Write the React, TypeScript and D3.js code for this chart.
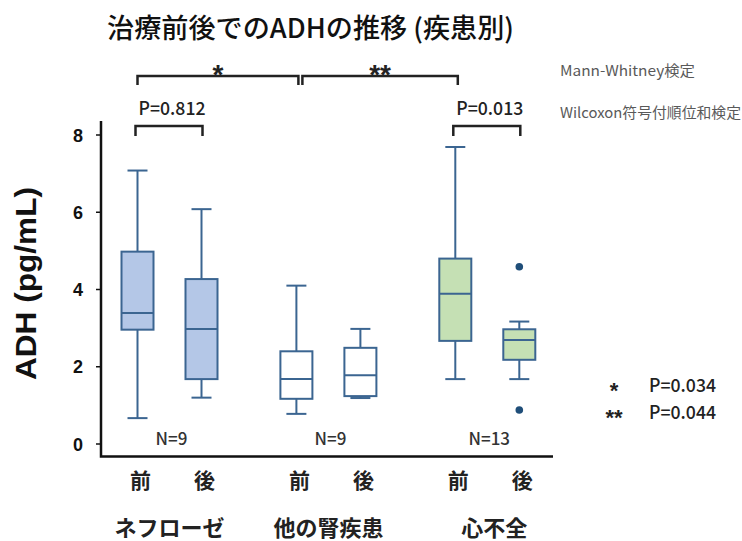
import React from "react";
import * as d3 from "d3";

// Disease groups and treatment phases
const groups = ["ネフローゼ", "他の腎疾患", "心不全"];
const phases = ["前", "後"];
const groupN = ["N=9", "N=9", "N=13"];

// Box statistics, one entry per box (group × phase, in order)
const boxLow = [0.67, 1.2, 0.78, 1.19, 1.68, 1.68];
const boxQ1 = [2.96, 1.68, 1.17, 1.24, 2.67, 2.18];
const boxMedian = [3.39, 2.98, 1.68, 1.78, 3.89, 2.69];
const boxQ3 = [4.98, 4.27, 2.4, 2.49, 4.8, 2.97];
const boxHigh = [7.08, 6.08, 4.1, 2.98, 7.69, 3.17];

// Outliers: box index and value
const outlierBox = [5, 5];
const outlierValue = [4.59, 0.88];

const yTicks = [0, 2, 4, 6, 8];

// Wilcoxon (pre vs post within group)
const wilcoxonGroups = [0, 2];
const wilcoxonLabels = ["P=0.812", "P=0.013"];

// Mann-Whitney (between groups, pre-treatment)
const mwPairs: [number, number][] = [
  [0, 1],
  [1, 2],
];
const mwMarks = ["*", "**"];
const mwLegendMarks = ["*", "**"];
const mwLegendP = ["P=0.034", "P=0.044"];

const groupFill = ["#b4c7e7", "#ffffff", "#c5e0b4"];
const stroke = "#3b6591";
const jpFont = "'Noto Sans CJK JP', 'Noto Sans', sans-serif";
const latinFont = "'Liberation Sans', Arial, sans-serif";

export default function App() {
  const W = 742;
  const H = 541;

  const y = d3.scaleLinear().domain([0, 8]).range([444, 135]);
  const xGroup = d3.scalePoint<string>().domain(groups).range([169.5, 487.3]);
  const xPhase = d3.scalePoint<string>().domain(phases).range([-32, 32]);
  const boxX = (i: number) =>
    (xGroup(groups[Math.floor(i / 2)]) as number) + (xPhase(phases[i % 2]) as number);

  const boxW = 32;
  const capW = 20;

  const axisLeft = 101;
  const axisBottom = 456.5;
  const axisRight = 553;
  const axisTop = 121;

  return (
    <svg
      width={W}
      height={H}
      style={{ position: "absolute", left: 0, top: 0, background: "#fff" }}
    >
      <rect x={0} y={0} width={W} height={H} fill="#fff" />

      {/* Title */}
      <text
        x={107}
        y={38}
        fontFamily={jpFont}
        fontWeight={500}
        fontSize={27}
        fill="#111"
        textLength={407}
        lengthAdjust="spacingAndGlyphs"
      >
        治療前後でのADHの推移 (疾患別)
      </text>

      {/* Test legend */}
      <text
        x={560}
        y={76}
        fontFamily={jpFont}
        fontSize={14.5}
        fill="#595959"
        textLength={135}
        lengthAdjust="spacingAndGlyphs"
      >
        Mann-Whitney検定
      </text>
      <text
        x={560}
        y={117.5}
        fontFamily={jpFont}
        fontSize={14.5}
        fill="#595959"
        textLength={181}
        lengthAdjust="spacingAndGlyphs"
      >
        Wilcoxon符号付順位和検定
      </text>

      {/* Mann-Whitney brackets */}
      {mwPairs.map(([a, b], k) => {
        const x0 = boxX(a * 2) + (k === 0 ? 0 : 6);
        const x1 = boxX(b * 2) + (k === 0 ? 2 : 2.5);
        const yb = 76;
        return (
          <g key={"mw" + k}>
            <path
              d={`M${x0},85 V${yb} H${x1} V85`}
              fill="none"
              stroke="#222"
              strokeWidth={2.5}
            />
            <text
              x={(x0 + x1) / 2}
              y={84}
              textAnchor="middle"
              fontFamily={latinFont}
              fontWeight="bold"
              fontSize={28}
              fill="#222"
            >
              {mwMarks[k]}
            </text>
          </g>
        );
      })}

      {/* Wilcoxon brackets */}
      {wilcoxonGroups.map((g, k) => {
        const x0 = boxX(g * 2) - 2;
        const x1 = boxX(g * 2 + 1) + 1;
        return (
          <g key={"wx" + k}>
            <path
              d={`M${x0},136 V126 H${x1} V136`}
              fill="none"
              stroke="#222"
              strokeWidth={2.5}
            />
            <text
              x={x0 + 3}
              y={115}
              fontFamily={jpFont}
              fontWeight={500}
              fontSize={18}
              fill="#222"
              textLength={67}
              lengthAdjust="spacingAndGlyphs"
            >
              {wilcoxonLabels[k]}
            </text>
          </g>
        );
      })}

      {/* Axes */}
      <path
        d={`M${axisLeft},${axisTop} V${axisBottom} H${axisRight}`}
        fill="none"
        stroke="#111"
        strokeWidth={2.5}
      />
      {yTicks.map((t) => (
        <g key={"t" + t}>
          <line x1={96} x2={axisLeft} y1={y(t)} y2={y(t)} stroke="#111" strokeWidth={1.5} />
          <text
            x={83}
            y={y(t) + 6.5}
            textAnchor="end"
            fontFamily={latinFont}
            fontWeight="bold"
            fontSize={18}
            fill="#111"
          >
            {t}
          </text>
        </g>
      ))}

      {/* Y axis title */}
      <text
        transform="translate(36,283.5) rotate(-90)"
        textAnchor="middle"
        fontFamily={latinFont}
        fontWeight="bold"
        fontSize={30}
        fill="#111"
        textLength={193}
        lengthAdjust="spacingAndGlyphs"
      >
        ADH (pg/mL)
      </text>

      {/* Box plots */}
      {boxMedian.map((_, i) => {
        const cx = boxX(i);
        const fill = groupFill[Math.floor(i / 2)];
        return (
          <g key={"b" + i} stroke={stroke} strokeWidth={2}>
            <line x1={cx} x2={cx} y1={y(boxHigh[i])} y2={y(boxQ3[i])} />
            <line x1={cx} x2={cx} y1={y(boxQ1[i])} y2={y(boxLow[i])} />
            <line x1={cx - capW / 2} x2={cx + capW / 2} y1={y(boxHigh[i])} y2={y(boxHigh[i])} />
            <line x1={cx - capW / 2} x2={cx + capW / 2} y1={y(boxLow[i])} y2={y(boxLow[i])} />
            <rect
              x={cx - boxW / 2}
              y={y(boxQ3[i])}
              width={boxW}
              height={y(boxQ1[i]) - y(boxQ3[i])}
              fill={fill}
            />
            <line
              x1={cx - boxW / 2}
              x2={cx + boxW / 2}
              y1={y(boxMedian[i])}
              y2={y(boxMedian[i])}
            />
          </g>
        );
      })}

      {/* Outliers */}
      {outlierValue.map((v, k) => (
        <circle key={"o" + k} cx={boxX(outlierBox[k])} cy={y(v)} r={3.8} fill="#1f4e79" />
      ))}

      {/* Sample sizes */}
      {groups.map((g, k) => (
        <text
          key={"n" + k}
          x={(xGroup(g) as number) + 2}
          y={445}
          textAnchor="middle"
          fontFamily={jpFont}
          fontWeight={500}
          fontSize={17}
          fill="#333"
        >
          {groupN[k]}
        </text>
      ))}

      {/* Phase labels */}
      {boxMedian.map((_, i) => (
        <text
          key={"p" + i}
          x={boxX(i) + 3}
          y={488}
          textAnchor="middle"
          fontFamily={jpFont}
          fontWeight="bold"
          fontSize={21}
          fill="#222"
        >
          {phases[i % 2]}
        </text>
      ))}

      {/* Group labels */}
      {groups.map((g, k) => (
        <text
          key={"g" + k}
          x={(xGroup(g) as number) + (k === 2 ? 7 : 0)}
          y={536}
          textAnchor="middle"
          fontFamily={jpFont}
          fontWeight="bold"
          fontSize={22}
          fill="#222"
        >
          {g}
        </text>
      ))}

      {/* Mann-Whitney significance legend */}
      {mwLegendP.map((p, k) => (
        <g key={"l" + k}>
          <text
            x={614}
            y={(k === 0 ? 385 : 412) + 12.5}
            textAnchor="middle"
            fontFamily={latinFont}
            fontWeight="bold"
            fontSize={22}
            fill="#222"
          >
            {mwLegendMarks[k]}
          </text>
          <text
            x={649}
            y={(k === 0 ? 385 : 412) + 6.5}
            fontFamily={jpFont}
            fontWeight={500}
            fontSize={18}
            fill="#222"
            textLength={67}
            lengthAdjust="spacingAndGlyphs"
          >
            {p}
          </text>
        </g>
      ))}
    </svg>
  );
}
